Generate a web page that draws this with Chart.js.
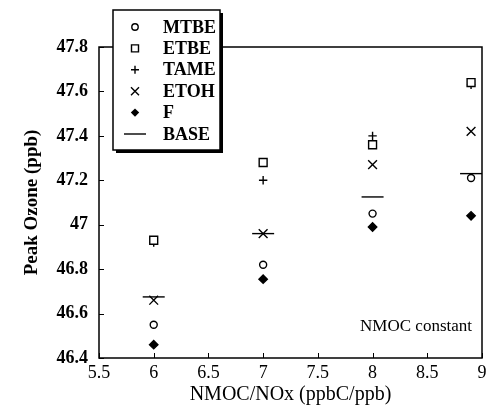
<!DOCTYPE html>
<html>
<head>
<meta charset="utf-8">
<script src="https://cdn.jsdelivr.net/npm/chart.js@4"></script>
<style>
  html, body { margin: 0; padding: 0; background: #fff; }
  #wrap { width: 488px; height: 407px; }
</style>
</head>
<body>
<div id="wrap"><canvas id="ozoneChart" width="488" height="407"></canvas></div>
<script>
// NMOC/NOx ratios (x) and peak ozone values (ppb)
var ratios = [6, 7, 8, 8.9];
var mtbe = [46.55, 46.82, 47.05, 47.21];
var etbe = [46.93, 47.28, 47.36, 47.64];
var tame = [46.92, 47.20, 47.40, 47.63];
var etoh = [46.66, 46.96, 47.27, 47.42];
var fuelF = [46.46, 46.755, 46.99, 47.04];
var base = [46.675, 46.96, 47.125, 47.23];

var xTicks = [5.5, 6, 6.5, 7, 7.5, 8, 8.5, 9];
var yTicks = [46.4, 46.6, 46.8, 47, 47.2, 47.4, 47.6, 47.8];

var serif = '"Liberation Serif", "DejaVu Serif", serif';

function pts(ys) {
    return ratios.map(function (x, i) { return { x: x, y: ys[i] }; });
}

function series(label, ys, style, radius, fill) {
    return {
        label: label,
        data: pts(ys),
        pointStyle: style,
        pointRadius: radius,
        pointHoverRadius: radius,
        pointBorderWidth: 1.4,
        borderColor: '#000',
        pointBorderColor: '#000',
        pointBackgroundColor: fill ? '#000' : '#fff',
        showLine: false
    };
}

var datasets = [
    series('MTBE', mtbe, 'circle', 3.5, false),
    series('ETBE', etbe, 'rect', 5.6, false),
    series('TAME', tame, 'cross', 4.2, false),
    series('ETOH', etoh, 'crossRot', 6.2, false),
    series('F', fuelF, 'rectRot', 4.2, true),
    series('BASE', base, 'line', 11, false)
];

// little marker painter for the boxed legend
function marker(ctx, style, x, y) {
    ctx.save();
    ctx.strokeStyle = '#000';
    ctx.fillStyle = '#000';
    ctx.lineWidth = 1.4;
    ctx.beginPath();
    if (style == 'circle') {
        ctx.arc(x, y, 3.2, 0, Math.PI * 2);
        ctx.stroke();
    } else if (style == 'rect') {
        ctx.rect(x - 3.5, y - 3.5, 7, 7);
        ctx.stroke();
    } else if (style == 'cross') {
        ctx.moveTo(x - 4, y); ctx.lineTo(x + 4, y);
        ctx.moveTo(x, y - 4); ctx.lineTo(x, y + 4);
        ctx.stroke();
    } else if (style == 'crossRot') {
        ctx.moveTo(x - 4, y - 4); ctx.lineTo(x + 4, y + 4);
        ctx.moveTo(x + 4, y - 4); ctx.lineTo(x - 4, y + 4);
        ctx.stroke();
    } else if (style == 'rectRot') {
        ctx.moveTo(x, y - 4.2); ctx.lineTo(x + 4.2, y);
        ctx.lineTo(x, y + 4.2); ctx.lineTo(x - 4.2, y);
        ctx.closePath();
        ctx.fill();
    } else if (style == 'line') {
        ctx.moveTo(x - 11, y); ctx.lineTo(x + 11, y);
        ctx.stroke();
    }
    ctx.restore();
}

var framePlugin = {
    id: 'frame',
    afterDatasetsDraw: function (chart) {
        var ctx = chart.ctx;
        var a = chart.chartArea;
        var xs = chart.scales.x, ys = chart.scales.y;
        ctx.save();
        ctx.strokeStyle = '#000';
        ctx.lineWidth = 1.5;
        ctx.strokeRect(a.left, a.top, a.right - a.left, a.bottom - a.top);
        ctx.lineWidth = 1;
        ctx.beginPath();
        xTicks.forEach(function (v) {
            var px = Math.round(xs.getPixelForValue(v)) + 0.5;
            ctx.moveTo(px, a.bottom); ctx.lineTo(px, a.bottom - 5);
        });
        yTicks.forEach(function (v) {
            var py = Math.round(ys.getPixelForValue(v)) + 0.5;
            ctx.moveTo(a.left, py); ctx.lineTo(a.left + 5, py);
        });
        ctx.stroke();

        // annotation
        ctx.fillStyle = '#000';
        ctx.font = '17px ' + serif;
        ctx.textAlign = 'right';
        ctx.textBaseline = 'middle';
        ctx.fillText('NMOC constant', a.right - 10, 327);

        // boxed legend with shadow
        var bx = 113, by = 10, bw = 107, bh = 140;
        ctx.fillStyle = '#000';
        ctx.fillRect(bx + 3, by + 3, bw, bh);
        ctx.fillStyle = '#fff';
        ctx.fillRect(bx, by, bw, bh);
        ctx.lineWidth = 1.5;
        ctx.strokeRect(bx, by, bw, bh);
        ctx.font = 'bold 18px ' + serif;
        ctx.textAlign = 'left';
        ctx.fillStyle = '#000';
        chart.data.datasets.forEach(function (ds, i) {
            var ly = 27 + i * 21.4;
            marker(ctx, ds.pointStyle, 135, ly);
            ctx.fillText(ds.label, 163, ly + 1);
        });
        ctx.restore();
    }
};

var ctx = document.getElementById('ozoneChart').getContext('2d');
var ozoneChart = new Chart(ctx, {
    type: 'scatter',
    data: { datasets: datasets },
    options: {
        responsive: false,
        animation: false,
        layout: { autoPadding: false, padding: { top: 47, right: 6, left: 0, bottom: 0 } },
        plugins: {
            legend: { display: false },
            tooltip: { enabled: false }
        },
        scales: {
            x: {
                type: 'linear',
                min: 5.5,
                max: 9,
                afterBuildTicks: function (s) { s.ticks = xTicks.map(function (v) { return { value: v }; }); },
                afterFit: function (s) { s.height = 49; s.paddingLeft = 0; s.paddingRight = 0; },
                grid: { display: false, drawTicks: false },
                border: { display: false },
                ticks: {
                    padding: 4,
                    color: '#000',
                    font: { family: serif, size: 18 },
                    callback: function (v) { return String(parseFloat(v.toFixed(1))); }
                },
                title: {
                    display: true,
                    text: 'NMOC/NOx (ppbC/ppb)',
                    color: '#000',
                    padding: { top: 0, bottom: 0 },
                    font: { family: serif, size: 20 }
                }
            },
            y: {
                type: 'linear',
                min: 46.4,
                max: 47.8,
                afterBuildTicks: function (s) { s.ticks = yTicks.map(function (v) { return { value: v }; }); },
                afterFit: function (s) { s.width = 99; s.paddingTop = 0; s.paddingBottom = 0; },
                grid: { display: false, drawTicks: false },
                border: { display: false },
                ticks: {
                    padding: 11,
                    color: '#000',
                    font: { family: serif, size: 18, weight: 'bold' },
                    callback: function (v) { return String(parseFloat(v.toFixed(1))); }
                },
                title: {
                    display: true,
                    text: 'Peak Ozone (ppb)',
                    color: '#000',
                    padding: { top: 21, bottom: 0 },
                    font: { family: serif, size: 19, weight: 'bold' }
                }
            }
        }
    },
    plugins: [framePlugin]
});
</script>
</body>
</html>
